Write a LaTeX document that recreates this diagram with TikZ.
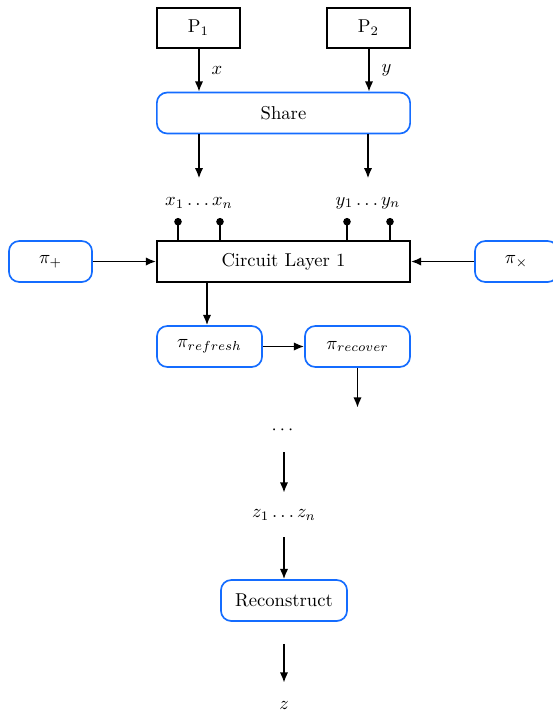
\documentclass[tikz,border=0pt]{standalone}
\usepackage{amsmath,amssymb}
\usetikzlibrary{arrows.meta}

\definecolor{protoblue}{RGB}{20,108,255}

\tikzset{
  party/.style={draw, line width=0.9pt, minimum width=44.6pt, minimum height=21.5pt, inner sep=0pt},
  proto/.style={draw=protoblue, line width=0.9pt, rounded corners=5.5pt, minimum height=22pt, inner sep=0pt},
  label/.style={minimum height=23.6pt, inner sep=0pt},
  flow/.style={line width=0.9pt, -{Latex[length=5.5pt,width=4.5pt]}},
  pin/.style={line width=0.9pt, -{Circle[length=4pt]}}
}

\begin{document}
\begin{tikzpicture}[x=0.537pt,y=0.537pt,yscale=-1,xscale=1]
    \useasboundingbox (0,0) rectangle (553,710);

    % Parties
    \node [party] (p1) at (198.5,28) {P$_1$};
    \node [party] (p2) at (368.5,28) {P$_2$};

    % Sharing
    \node [proto, minimum width=136pt] (share) at (283.5,113) {Share};
    \draw [flow] (p1.south -| 199,0) -- (share.north -| 199,0) node [midway, right=3pt] {$x$};
    \draw [flow] (p2.south -| 369,0) -- (share.north -| 369,0) node [midway, right=3pt] {$y$};

    % Shares
    \node [label] (xs) at (199,203) {$x_1\ldots x_n$};
    \node [label] (ys) at (368,203) {$y_1\ldots y_n$};
    \draw [flow] (xs.north |- share.south) -- ++(0,44);
    \draw [flow] (ys.north |- share.south) -- ++(0,44);

    % Circuit
    \node [party, minimum width=136pt, minimum height=22pt] (circ) at (283.5,261.5) {Circuit Layer 1};
    \coordinate (x1) at (178,218);
    \coordinate (xn) at (220,218);
    \coordinate (y1) at (347,218);
    \coordinate (yn) at (390,218);
    \foreach \c in {x1,xn,y1,yn}
      \draw [pin] (\c |- circ.north) -- (\c);

    % Gate protocols
    \node [proto, minimum width=44.6pt] (padd) at (50.5,261.5) {$\pi_{+}$};
    \node [proto, minimum width=44.6pt] (pmul) at (516.5,261.5) {$\pi_{\times}$};
    \draw [flow] (padd) -- (circ);
    \draw [flow] (pmul) -- (circ);

    % Refresh and recover
    \node [proto, minimum width=56.4pt] (refresh) at (209.5,346.5) {$\pi_{refresh}$};
    \node [proto, minimum width=56.4pt] (recover) at (357.5,346.5) {$\pi_{recover}$};
    \coordinate (cdown) at (207,300);
    \draw [flow] (cdown |- circ.south) -- (cdown |- refresh.north);
    \draw [flow] (refresh) -- (recover);

    % Remaining layers
    \node [label] (dots) at (284,430) {$\cdots$};
    \node [label] (zs) at (284,515) {$z_1\ldots z_n$};
    \draw [flow] (recover.south) -- (recover.south |- dots.north);
    \draw [flow] (dots) -- (zs);

    % Output
    \node [proto, minimum width=67.7pt] (recon) at (284,600.5) {Reconstruct};
    \node [label] (z) at (284,705) {$z$};
    \draw [flow] (zs) -- (recon);
    \draw [flow, shorten <=11.8pt] (recon) -- (z);
\end{tikzpicture}
\end{document}
